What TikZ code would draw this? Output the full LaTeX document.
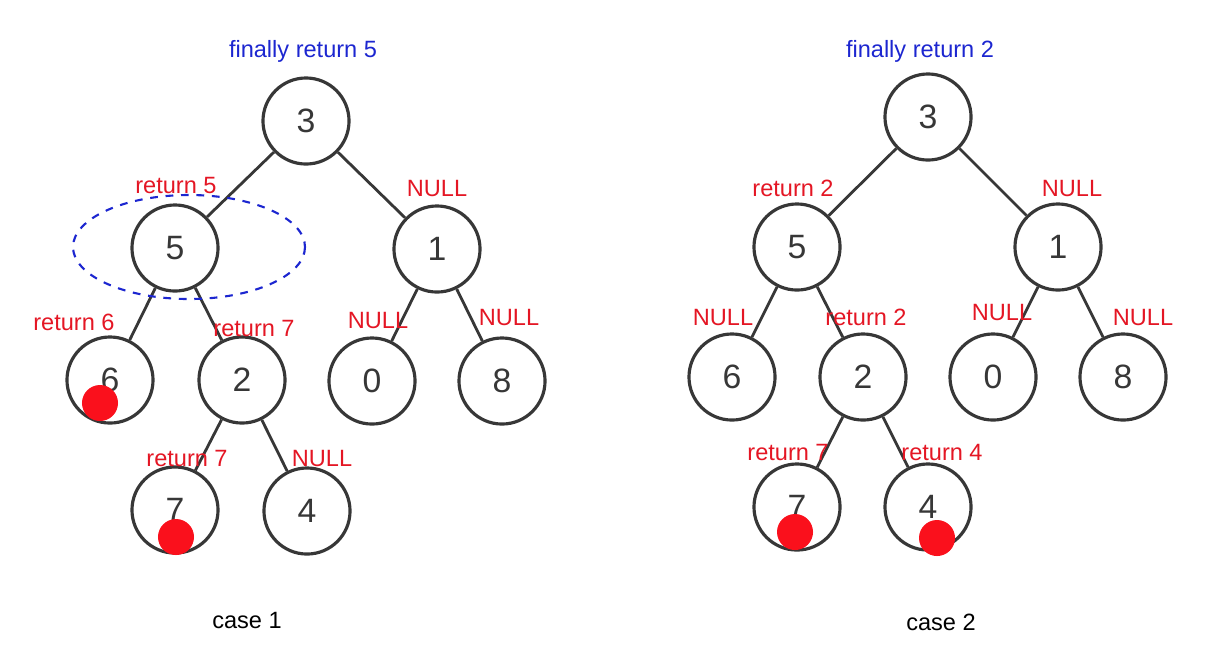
\documentclass[tikz,border=0pt]{standalone}
\usepackage{fontspec}
\setmainfont{Liberation Sans}
\definecolor{retred}{RGB}{228,22,36}
\definecolor{dotred}{RGB}{250,16,28}
\definecolor{finblue}{RGB}{28,38,208}
\definecolor{treegray}{RGB}{55,55,55}

\begin{document}
\begin{tikzpicture}[x=0.01cm, y=-0.01cm,
    treenode/.style ={circle, draw=treegray, line width=0.9pt, minimum size=0.86cm, inner sep=0pt, text=treegray, font=\fontsize{9.6}{12}\selectfont},
    treeedge/.style ={treegray, line width=0.8pt},
    retlabel/.style ={text=retred, inner sep=0pt, font=\fontsize{6.7}{8}\selectfont},
    finlabel/.style ={text=finblue, inner sep=0pt, font=\fontsize{6.7}{8}\selectfont},
    caselabel/.style ={inner sep=0pt, font=\fontsize{6.7}{8}\selectfont},
    hitdot/.style ={circle, fill=dotred, minimum size=0.36cm, inner sep=0pt}]
   \useasboundingbox (0,0) rectangle (1228,654);

   % case 1
   \node[treenode] (a3) at (306,121) {3};
   \node[treenode] (a5) at (175,248) {5};
   \node[treenode] (a1) at (437,249) {1};
   \node[treenode] (a6) at (110,380) {6};
   \node[treenode] (a2) at (242,380) {2};
   \node[treenode] (a0) at (372,381) {0};
   \node[treenode] (a8) at (502,381) {8};
   \node[treenode] (a7) at (175,510) {7};
   \node[treenode] (a4) at (307,511) {4};

   \draw[treeedge] (a3) to (a5);
   \draw[treeedge] (a3) to (a1);
   \draw[treeedge] (a5) to (a6);
   \draw[treeedge] (a5) to (a2);
   \draw[treeedge] (a1) to (a0);
   \draw[treeedge] (a1) to (a8);
   \draw[treeedge] (a2) to (a7);
   \draw[treeedge] (a2) to (a4);

   \node[hitdot] (a6hit) at (100,403) {};
   \node[hitdot] (a7hit) at (176,537) {};
   \draw[finblue, line width=0.6pt, dash pattern=on 2.2pt off 2.2pt] (189,247) ellipse [x radius=116, y radius=52];

   \node[finlabel] (a3ret) at (303,51) {finally return 5};
   \node[retlabel] (a5ret) at (176,185) {return 5};
   \node[retlabel] (a1ret) at (437,188) {NULL};
   \node[retlabel] (a6ret) at (74,322) {return 6};
   \node[retlabel] (a2ret) at (254,328) {return 7};
   \node[retlabel] (a0ret) at (378,320) {NULL};
   \node[retlabel] (a8ret) at (509,317) {NULL};
   \node[retlabel] (a7ret) at (187,458) {return 7};
   \node[retlabel] (a4ret) at (322,458) {NULL};
   \node[caselabel] (case1) at (247,620) {case 1};

   % case 2
   \node[treenode] (b3) at (928,117) {3};
   \node[treenode] (b5) at (797,247) {5};
   \node[treenode] (b1) at (1058,247) {1};
   \node[treenode] (b6) at (732,377) {6};
   \node[treenode] (b2) at (863,377) {2};
   \node[treenode] (b0) at (993,377) {0};
   \node[treenode] (b8) at (1123,377) {8};
   \node[treenode] (b7) at (797,507) {7};
   \node[treenode] (b4) at (928,507) {4};

   \draw[treeedge] (b3) to (b5);
   \draw[treeedge] (b3) to (b1);
   \draw[treeedge] (b5) to (b6);
   \draw[treeedge] (b5) to (b2);
   \draw[treeedge] (b1) to (b0);
   \draw[treeedge] (b1) to (b8);
   \draw[treeedge] (b2) to (b7);
   \draw[treeedge] (b2) to (b4);

   \node[hitdot] (b7hit) at (795,532) {};
   \node[hitdot] (b4hit) at (937,538) {};

   \node[finlabel] (b3ret) at (920,51) {finally return 2};
   \node[retlabel] (b5ret) at (793,188) {return 2};
   \node[retlabel] (b1ret) at (1072,188) {NULL};
   \node[retlabel] (b6ret) at (723,317) {NULL};
   \node[retlabel] (b2ret) at (866,317) {return 2};
   \node[retlabel] (b0ret) at (1002,312) {NULL};
   \node[retlabel] (b8ret) at (1143,317) {NULL};
   \node[retlabel] (b7ret) at (788,452) {return 7};
   \node[retlabel] (b4ret) at (942,452) {return 4};
   \node[caselabel] (case2) at (941,622) {case 2};
 \end{tikzpicture}
\end{document}
